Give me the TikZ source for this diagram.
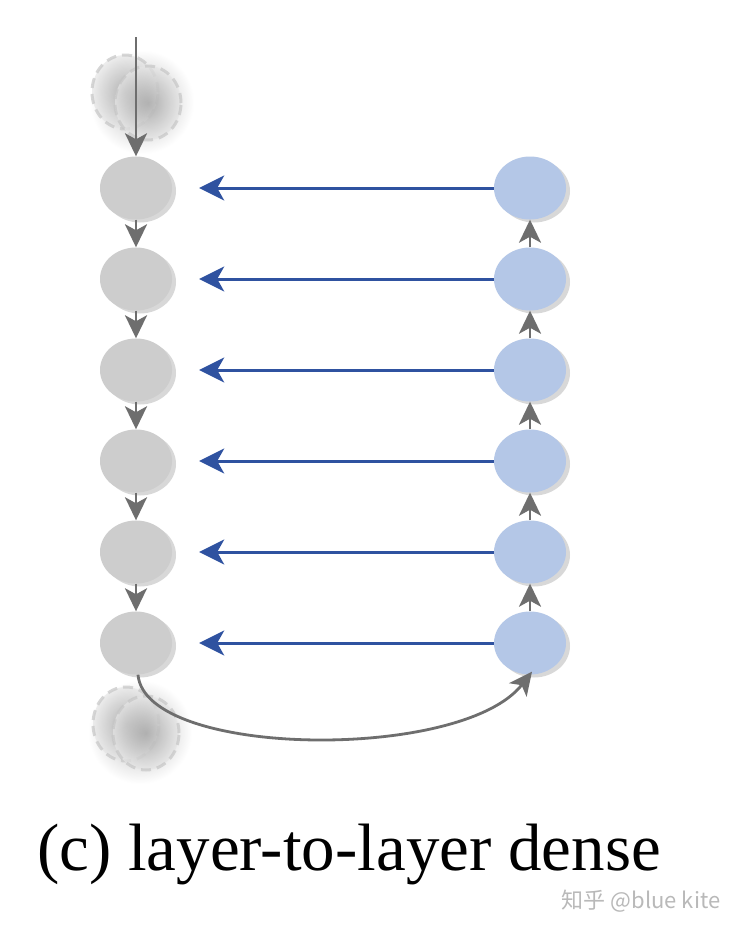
\documentclass[tikz,border=0pt]{standalone}
\usepackage{fontspec}
\setmainfont{Liberation Serif}
\newfontfamily\cjk{Noto Sans CJK SC}
\usetikzlibrary{arrows.meta,shadows,shapes.geometric}
\definecolor{nodegray}{HTML}{CDCDCD}
\definecolor{nodeblue}{HTML}{B4C7E7}
\definecolor{arrgray}{HTML}{6E6E6E}
\definecolor{arrblue}{HTML}{2F52A0}
\begin{document}
\begin{tikzpicture}[x=1pt,y=-1pt,
  unit/.style={ellipse,minimum width=72pt,minimum height=63pt,inner sep=0pt,draw=none,
    drop shadow={shadow xshift=4pt,shadow yshift=-3pt,opacity=0.3}},
  grayunit/.style={unit,fill=nodegray},
  blueunit/.style={unit,fill=nodeblue},
  ghostblur/.style={ellipse,minimum width=104pt,minimum height=104pt,inner sep=0pt,draw=none,
    inner color=gray!55,outer color=white},
  ghost/.style={ellipse,minimum width=66pt,minimum height=74pt,inner sep=0pt,
    draw=gray!45,dash pattern=on 10pt off 6pt,line width=3pt,
    inner color=gray!70,outer color=gray!20,opacity=0.7},
  grayarrow/.style={draw=arrgray,line width=2.8pt,-{Stealth[length=23pt,width=22pt,inset=6pt]}},
  bluearrow/.style={draw=arrblue,line width=3pt,-{Stealth[length=25pt,width=25pt,inset=7pt]}}]
\useasboundingbox (0,0) rectangle (740,930);
\fill[white] (0,0) rectangle (740,930);
% ghosts
\node[ghostblur] (gtb) at (142,102) {};
\node[ghost] (gt1) at (125,92) {};
\node[ghost] (gt2) at (148,103) {};
\node[ghostblur] (gbb) at (140,732) {};
\node[ghost] (gb1) at (126,724) {};
\node[ghost] (gb2) at (146,733) {};
% units
\foreach \i/\y in {1/188,2/279,3/370,4/461,5/552,6/643}{
  \node[grayunit] (g\i) at (136,\y) {};
  \node[blueunit] (b\i) at (530,\y) {};
}
\coordinate (top) at (136,37);
\draw[grayarrow] (top) -- (g1.north);
\foreach \i/\j in {1/2,2/3,3/4,4/5,5/6}{
  \draw[grayarrow] (g\i.south) -- (g\j.north);
  \draw[grayarrow] (b\j.north) -- (b\i.south);
}
\foreach \i in {1,...,6}{
  \draw[bluearrow] (b\i.west) -- ([xshift=27pt]g\i.east);
}
\draw[grayarrow] ([xshift=2pt]g6.south) .. controls (145,758) and (462,762) .. ([xshift=2pt,yshift=3pt]b6.south);
\node[font=\fontsize{67}{67}\selectfont,anchor=base] (cap) at (349,870) {(c) layer-to-layer dense};
\node[font=\cjk\fontsize{22}{22}\selectfont,text=gray!55,anchor=base] (wm) at (641,908) {知乎 @blue kite};
\end{tikzpicture}
\end{document}
